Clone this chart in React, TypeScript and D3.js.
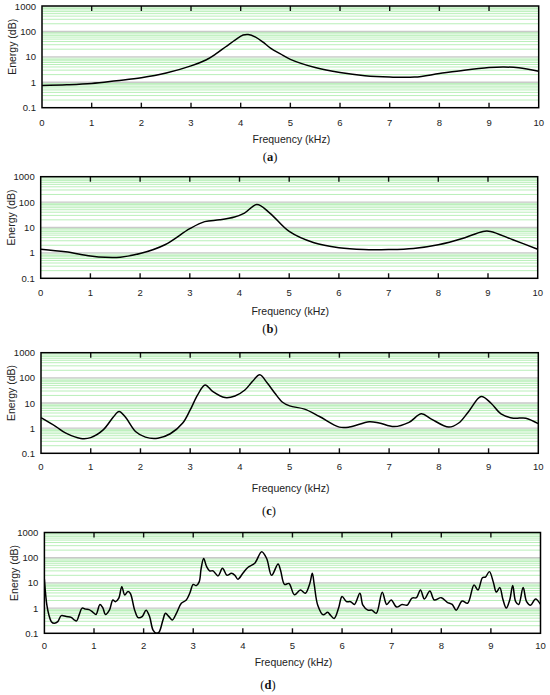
import React from "react";
import * as d3 from "d3";

// ---- data (frequency in kHz, energy values) ----
const freqA = [0, 0.5, 1, 1.5, 2, 2.5, 3, 3.3, 3.5, 3.7, 3.9, 4.05, 4.15, 4.3, 4.45, 4.6, 4.8, 5, 5.5, 6, 6.5, 7, 7.5, 8, 8.5, 9, 9.3, 9.6, 10];
const energyA = [0.75, 0.8, 0.9, 1.15, 1.5, 2.3, 4.4, 7.5, 13, 25, 48, 72, 76, 60, 38, 22, 13, 8, 3.8, 2.4, 1.8, 1.6, 1.6, 2.2, 3, 3.8, 4, 3.7, 2.7];

const freqB = [0, 0.5, 1, 1.3, 1.6, 2, 2.5, 3, 3.3, 3.6, 3.9, 4.1, 4.35, 4.61, 5, 5.5, 6, 6.5, 7, 7.5, 8, 8.5, 8.9, 9.05, 9.5, 10];
const energyB = [1.4, 1.1, 0.76, 0.67, 0.68, 0.94, 2.1, 9, 17, 20, 26, 37, 80, 37, 7, 2.5, 1.6, 1.35, 1.35, 1.5, 2.1, 3.8, 7, 7, 3.3, 1.4];

const freqC = [0, 0.3, 0.5, 0.8, 1.0, 1.25, 1.45, 1.57, 1.7, 1.9, 2.1, 2.35, 2.6, 2.85, 3.0, 3.15, 3.3, 3.45, 3.7, 3.9, 4.1, 4.25, 4.4, 4.55, 4.7, 4.85, 5.0, 5.3, 5.6, 6.0, 6.2, 6.6, 6.8, 7.1, 7.4, 7.65, 7.85, 8.2, 8.4, 8.6, 8.85, 9.05, 9.25, 9.5, 9.75, 10];
const energyC = [2.6, 1.15, 0.63, 0.39, 0.42, 0.85, 2.7, 4.6, 2.7, 0.74, 0.44, 0.4, 0.6, 1.6, 5.3, 21, 52, 29, 16.5, 19, 33, 71, 132, 62, 25, 11, 7.7, 5.7, 2.9, 1.1, 1.1, 1.8, 1.6, 1.15, 1.7, 3.7, 2.3, 1.1, 1.6, 4.6, 18, 9.8, 3.7, 2.5, 2.5, 1.5];

const freqD = [0, 0.02, 0.05, 0.09, 0.14, 0.2, 0.27, 0.34, 0.44, 0.54, 0.6, 0.65, 0.7, 0.76, 0.83, 0.9, 0.98, 1.04, 1.12, 1.18, 1.23, 1.31, 1.38, 1.43, 1.5, 1.56, 1.62, 1.68, 1.73, 1.82, 1.89, 1.97, 2.05, 2.12, 2.19, 2.26, 2.31, 2.39, 2.44, 2.51, 2.58, 2.66, 2.76, 2.86, 2.93, 3.0, 3.06, 3.12, 3.16, 3.21, 3.27, 3.33, 3.4, 3.5, 3.59, 3.68, 3.77, 3.84, 3.9, 4.0, 4.1, 4.24, 4.38, 4.48, 4.58, 4.71, 4.76, 4.84, 4.93, 5.04, 5.16, 5.26, 5.35, 5.4, 5.44, 5.51, 5.62, 5.71, 5.76, 5.84, 5.93, 6.0, 6.09, 6.17, 6.25, 6.36, 6.42, 6.52, 6.6, 6.69, 6.81, 6.9, 6.99, 7.1, 7.21, 7.31, 7.41, 7.5, 7.58, 7.66, 7.77, 7.86, 8.0, 8.12, 8.22, 8.3, 8.42, 8.53, 8.66, 8.74, 8.83, 8.89, 8.97, 9.05, 9.11, 9.18, 9.24, 9.31, 9.38, 9.44, 9.5, 9.56, 9.65, 9.72, 9.8, 9.9, 10.0];
const energyD = [14, 4.5, 1.3, 0.54, 0.29, 0.25, 0.29, 0.5, 0.46, 0.43, 0.34, 0.31, 0.54, 1.0, 0.91, 0.87, 0.68, 0.56, 1.4, 1.0, 0.56, 0.83, 2.1, 1.8, 2.5, 7.1, 3.3, 4.5, 3.9, 0.83, 0.42, 0.46, 0.83, 0.46, 0.135, 0.1, 0.11, 0.34, 0.62, 0.46, 0.34, 0.62, 1.55, 2.1, 3.9, 8.7, 7.8, 11, 38, 93, 44, 30, 30, 19, 38, 20, 24, 20, 14, 24, 41, 60, 174, 93, 20, 56, 32, 8.7, 9.5, 3.4, 5.2, 3.9, 9.5, 24, 8.3, 1.3, 0.54, 0.68, 0.54, 0.39, 1.0, 2.9, 1.8, 1.8, 1.4, 3.9, 1.3, 0.83, 0.83, 0.62, 4.3, 1.4, 2.1, 1.1, 1.4, 1.3, 2.5, 2.6, 5.2, 2.3, 4.8, 2.1, 2.6, 1.7, 1.4, 0.83, 1.9, 1.55, 8.3, 5.2, 16, 17, 28, 10.5, 4.3, 6.5, 2.3, 1.0, 2.1, 7.8, 1.8, 1.4, 6.5, 1.8, 1.3, 2.3, 1.4];

const xTicks = [0, 1, 2, 3, 4, 5, 6, 7, 8, 9, 10];
const yTicks = [0.1, 1, 10, 100, 1000];
const yTickLabels = ["0.1", "1", "10", "100", "1000"];
const panelLetters = ["a", "b", "c", "d"];
const xTitle = "Frequency (kHz)";
const yTitle = "Energy (dB)";

type Panel = {
  freq: number[];
  energy: number[];
  left: number;
  right: number;
  top: number;
  bottom: number;
  tickY: number;
  titleY: number;
  labelY: number;
  labelX: number;
};

const panels: Panel[] = [
  { freq: freqA, energy: energyA, left: 42, right: 538.7, top: 6, bottom: 107.7, tickY: 122, titleY: 139, labelY: 157, labelX: 270 },
  { freq: freqB, energy: energyB, left: 40.7, right: 537.7, top: 176.7, bottom: 278.3, tickY: 292.3, titleY: 311, labelY: 329, labelX: 270 },
  { freq: freqC, energy: energyC, left: 41, right: 538.3, top: 352.7, bottom: 453.3, tickY: 466.7, titleY: 487.7, labelY: 511, labelX: 269 },
  { freq: freqD, energy: energyD, left: 44.4, right: 540.5, top: 532.5, bottom: 633.3, tickY: 645, titleY: 661.7, labelY: 685, labelX: 268 },
];

const minorValues: number[] = [];
[0.1, 1, 10, 100].forEach((d) => {
  for (let k = 2; k <= 9; k++) minorValues.push(d * k);
});

function PanelChart({ p, idx }: { p: Panel; idx: number }) {
  const x = d3.scaleLinear().domain([0, 10]).range([p.left, p.right]);
  const y = d3.scaleLog().domain([0.1, 1000]).range([p.bottom, p.top]);
  const pts = p.freq.map((f, i) => [f, p.energy[i]] as [number, number]);
  const line = d3
    .line<[number, number]>()
    .x((d) => x(d[0]))
    .y((d) => y(d[1]))
    .curve(d3.curveCatmullRom.alpha(0.5));
  const clipId = `clip-${idx}`;
  const sans = "Arial, 'Liberation Sans', sans-serif";
  const midY = (p.top + p.bottom) / 2;
  return (
    <g>
      <defs>
        <clipPath id={clipId}>
          <rect x={p.left} y={p.top} width={p.right - p.left} height={p.bottom - p.top} />
        </clipPath>
      </defs>
      <rect x={p.left} y={p.top} width={p.right - p.left} height={p.bottom - p.top} fill="#ffffff" />
      {minorValues.map((v, i) => (
        <line key={`m${i}`} x1={p.left} x2={p.right} y1={y(v)} y2={y(v)} stroke="#b9efb9" strokeWidth={1} />
      ))}
      {[1, 10, 100].map((v) => (
        <line key={`g${v}`} x1={p.left} x2={p.right} y1={y(v)} y2={y(v)} stroke="#c9c9c9" strokeWidth={1.4} />
      ))}
      {xTicks.slice(1, -1).map((t) => (
        <g key={`t${t}`}>
          <line x1={x(t)} x2={x(t)} y1={p.top} y2={p.top + 5} stroke="#111" strokeWidth={1.4} />
          <line x1={x(t)} x2={x(t)} y1={p.bottom} y2={p.bottom - 5} stroke="#111" strokeWidth={1.4} />
        </g>
      ))}
      <path d={line(pts) || ""} fill="none" stroke="#000" strokeWidth={1.5} clipPath={`url(#${clipId})`} />
      <rect x={p.left} y={p.top} width={p.right - p.left} height={p.bottom - p.top} fill="none" stroke="#000" strokeWidth={1.5} />
      {xTicks.map((t) => (
        <text key={`xl${t}`} x={x(t)} y={p.tickY} textAnchor="middle" dominantBaseline="central" fontFamily={sans} fontSize={9.5} fill="#222">
          {t}
        </text>
      ))}
      {yTicks.map((t, i) => (
        <text key={`yl${t}`} x={p.left - 6} y={y(t)} textAnchor="end" dominantBaseline="central" fontFamily={sans} fontSize={9.5} fill="#222">
          {yTickLabels[i]}
        </text>
      ))}
      <text x={(p.left + p.right) / 2 + 1} y={p.titleY} textAnchor="middle" dominantBaseline="central" fontFamily={sans} fontSize={10.5} fill="#222">
        {xTitle}
      </text>
      <text
        transform={`translate(${p.left - 30},${midY - 10}) rotate(-90)`}
        textAnchor="middle"
        dominantBaseline="central"
        fontFamily={sans}
        fontSize={10.5}
        fill="#222"
      >
        {yTitle}
      </text>
      <text x={p.labelX} y={p.labelY} textAnchor="middle" dominantBaseline="central" fontFamily="'Liberation Serif', 'DejaVu Serif', serif" fontSize={12.5} fill="#111">
        (<tspan fontWeight="bold">{panelLetters[idx]}</tspan>)
      </text>
    </g>
  );
}

export default function App() {
  return (
    <svg width={550} height={695} style={{ position: "absolute", left: 0, top: 0, background: "#fff" }}>
      <rect x={0} y={0} width={550} height={695} fill="#fff" />
      {panels.map((p, i) => (
        <PanelChart key={i} p={p} idx={i} />
      ))}
    </svg>
  );
}
